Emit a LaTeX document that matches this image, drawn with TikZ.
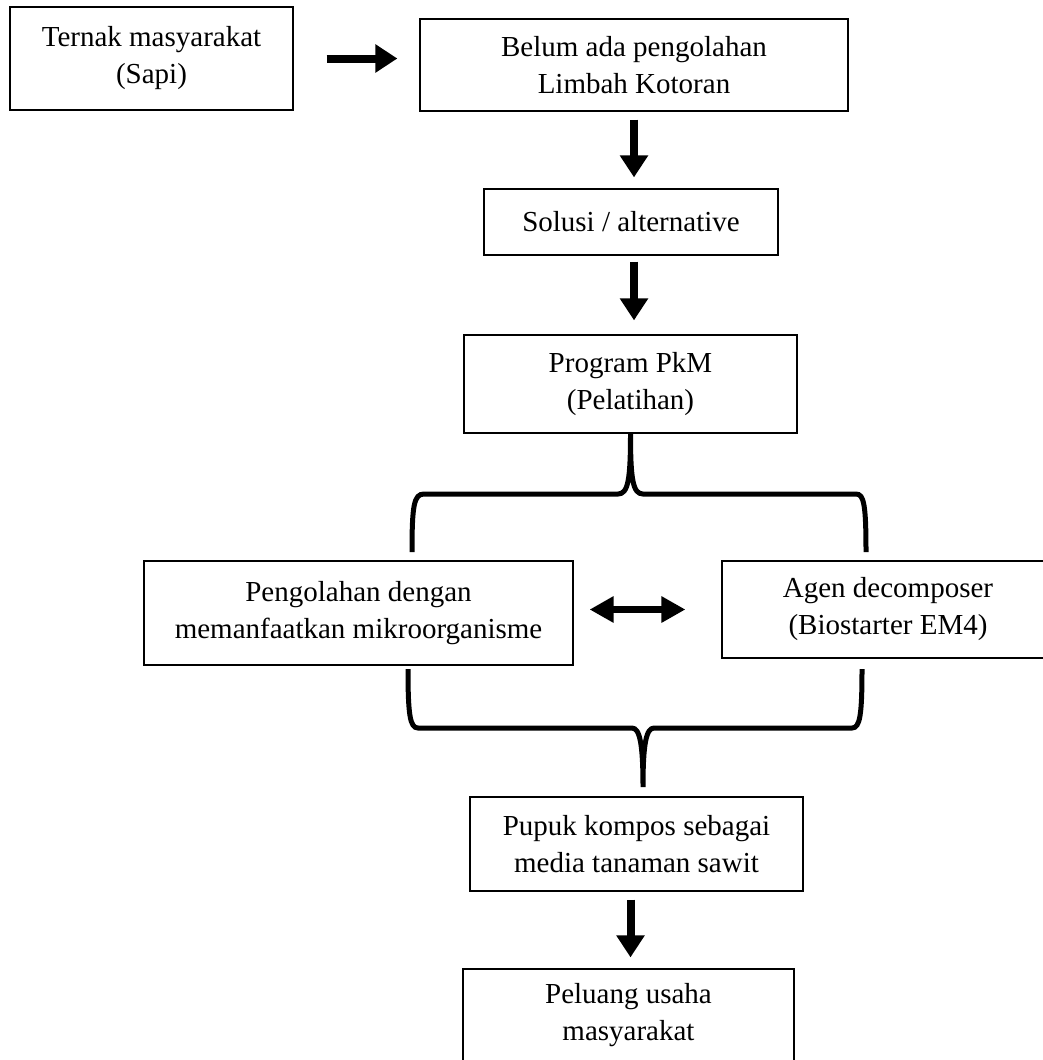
\documentclass[tikz,border=0pt]{standalone}
\usepackage{fontspec}
\setmainfont{Liberation Serif}
\usetikzlibrary{calc,arrows.meta,positioning}
\tikzstyle{box}=[draw,line width=1.2pt,align=center,inner sep=0pt,font=\fontsize{29}{37}\selectfont]
\tikzstyle{fatarrow}=[line width=8pt,-{Triangle[length=22pt,width=27pt]}]
\tikzstyle{twoarrow}=[line width=7pt,{Triangle[length=24pt,width=25pt]}-{Triangle[length=24pt,width=25pt]}]
\tikzstyle{brace}=[line width=5pt]

\begin{document}
\begin{tikzpicture}[x=1pt,y=-1pt]
\useasboundingbox (0,0) rectangle (1043,1060);
\node [box,minimum width=283pt,minimum height=103pt] (ternak) at (151.5,58.5) {Ternak masyarakat\\(Sapi)};
\node [box,minimum width=428pt,minimum height=92pt] (belum) at (634,65) {Belum ada pengolahan\\Limbah Kotoran};
\node [box,minimum width=294pt,minimum height=66pt] (solusi) at (631,222) {Solusi / alternative};
\node [box,minimum width=333pt,minimum height=98pt] (program) at (630.5,384) {Program PkM\\(Pelatihan)};
\node [box,minimum width=429pt,minimum height=104pt] (pengolahan) at (358.5,613) {Pengolahan dengan\\memanfaatkan mikroorganisme};
\node [box,minimum width=332pt,minimum height=97pt] (agen) at (888,609.5) {Agen decomposer\\(Biostarter EM4)};
\node [box,minimum width=333pt,minimum height=94pt] (pupuk) at (636.5,844) {Pupuk kompos sebagai\\media tanaman sawit};
\node [box,minimum width=331pt,minimum height=93pt] (peluang) at (628.5,1015.5) {Peluang usaha\\masyarakat};

\draw [fatarrow,shorten <=33pt,shorten >=22pt] (ternak.east) -- (ternak.east -| belum.west);
\draw [fatarrow,shorten <=8pt,shorten >=11pt] (belum.south) -- (belum.south |- solusi.north);
\draw [fatarrow,shorten <=6pt,shorten >=14pt] (belum.south |- solusi.south) -- (belum.south |- program.north);
\draw [fatarrow,shorten <=8pt,shorten >=11pt] (program.south |- pupuk.south) -- (program.south |- peluang.north);
\draw [twoarrow,shorten <=16pt,shorten >=36pt] (pengolahan.east |- agen.west) -- (agen.west);

\coordinate (topL) at (412,552);
\coordinate (topR) at (866,552);
\coordinate (botL) at (408,669);
\coordinate (botR) at (862,669);
\coordinate (botTip) at (643,787);
\draw [brace] (topL) .. controls (412,505) and (414,494) .. (424,494) -- (618,494)
  .. controls (628,494) and (630.5,480) .. (program.south)
  .. controls (630.5,480) and (633,494) .. (643,494) -- (856,494)
  .. controls (864,494) and (866,505) .. (topR);
\draw [brace] (botL) .. controls (408,715) and (410,728) .. (418,728) -- (632,728)
  .. controls (640,728) and (643,745) .. (botTip)
  .. controls (643,745) and (646,728) .. (654,728) -- (852,728)
  .. controls (860,728) and (862,715) .. (botR);
\end{tikzpicture}
\end{document}
